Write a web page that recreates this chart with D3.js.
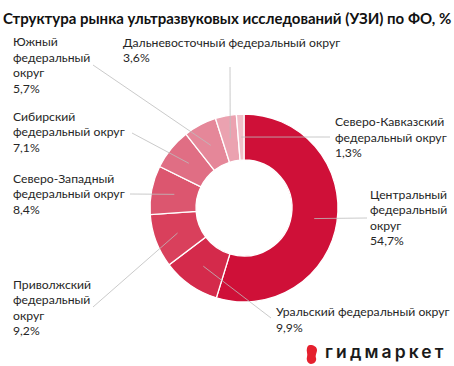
<!DOCTYPE html>
<html>
<head>
<meta charset="utf-8">
<script src="https://cdn.jsdelivr.net/npm/d3@7"></script>
<style>
  body { margin: 0; background: #fff; }
  text { font-family: Lato, sans-serif; fill: #222; }
</style>
</head>
<body>
<div id="chartDiv"></div>
<script>
// data
var districts = ["Центральный федеральный округ", "Уральский федеральный округ", "Приволжский федеральный округ",
    "Северо-Западный федеральный округ", "Сибирский федеральный округ", "Южный федеральный округ",
    "Дальневосточный федеральный округ", "Северо-Кавказский федеральный округ"];
var shares = [54.7, 9.9, 9.2, 8.4, 7.1, 5.7, 3.6, 1.3];
var labelLines = [
    ["Центральный", "федеральный", "округ"],
    ["Уральский федеральный округ"],
    ["Приволжский", "федеральный", "округ"],
    ["Северо-Западный", "федеральный округ"],
    ["Сибирский", "федеральный округ"],
    ["Южный", "федеральный", "округ"],
    ["Дальневосточный федеральный округ"],
    ["Северо-Кавказский", "федеральный округ"]
];
var sliceColors = ["#cf1038", "#d42a4b", "#d9405c", "#dc566f", "#e06e84", "#e58799", "#eba2b0", "#f1bfc9"];

// label placement: text x, first baseline, leader end point
var labelPos = [
    {x: 370, y: 198.5, lx: 367, ly: 218},
    {x: 276, y: 316, lx: 271, ly: 318},
    {x: 13, y: 288.5, lx: 93, ly: 307},
    {x: 13, y: 182.5, lx: 130, ly: 194},
    {x: 13, y: 120.5, lx: 132, ly: 133},
    {x: 13, y: 46, lx: 93, ly: 65},
    {x: 123, y: 46.5, lx: 230, ly: 67},
    {x: 335, y: 126, lx: 330, ly: 137}
];

var width = 454, height = 366;
var cx = 244, cy = 208, rOuter = 94, rInner = 48;
var lineH = 15.6;

var svg = d3.select("#chartDiv").append("svg")
    .attr("width", width)
    .attr("height", height);

svg.append("text")
    .attr("x", 3)
    .attr("y", 24)
    .style("font-size", "15px")
    .style("font-weight", "bold")
    .style("fill", "#111")
    .text("Структура рынка ультразвуковых исследований (УЗИ) по ФО, %");

var pie = d3.pie().sort(null).value(d => d);
var arcs = pie(shares);
var arc = d3.arc().innerRadius(rInner).outerRadius(rOuter);
var midArc = d3.arc().innerRadius(71).outerRadius(71);

var g = svg.append("g").attr("transform", `translate(${cx},${cy})`);

g.selectAll("path.slice")
    .data(arcs)
    .join("path")
    .attr("class", "slice")
    .attr("d", arc)
    .attr("fill", (d, i) => sliceColors[i])
    .attr("stroke", "#fff")
    .attr("stroke-width", 1.3);

// leader lines
svg.selectAll("line.leader")
    .data(arcs)
    .join("line")
    .attr("class", "leader")
    .attr("x1", d => cx + midArc.centroid(d)[0])
    .attr("y1", d => cy + midArc.centroid(d)[1])
    .attr("x2", (d, i) => labelPos[i].lx)
    .attr("y2", (d, i) => labelPos[i].ly)
    .attr("stroke", "#bdbdbd")
    .attr("stroke-width", 0.8);

// labels
var fmt = v => d3.format(".1f")(v).replace(".", ",") + "%";
var lab = svg.selectAll("text.lab")
    .data(arcs)
    .join("text")
    .attr("class", "lab")
    .style("font-size", "12.2px")
    .style("fill", "#262626");

lab.each(function(d, i) {
    var t = d3.select(this);
    var lines = labelLines[i].concat([fmt(shares[i])]);
    lines.forEach((s, j) => {
        t.append("tspan")
            .attr("x", labelPos[i].x)
            .attr("y", labelPos[i].y + j * lineH)
            .text(s);
    });
});

// logo
var logo = svg.append("g").attr("transform", "translate(306,345)");
logo.append("path")
    .attr("d", "M4,0 C8,0 11,2 11,5 C11,8 9,10 10,13 C11,16 8,19 5,19 C2,19 0,15 1,12 C2,9 0,6 1,3 C1.5,1 2.5,0 4,0 Z")
    .attr("fill", "#e5202e");
svg.append("text")
    .attr("x", 325)
    .attr("y", 358)
    .style("font-family", "Inter, sans-serif")
    .style("font-size", "17.5px")
    .style("font-weight", "600")
    .style("letter-spacing", "3.1px")
    .style("fill", "#1a1a1a")
    .text("гидмаркет");
</script>
</body>
</html>
